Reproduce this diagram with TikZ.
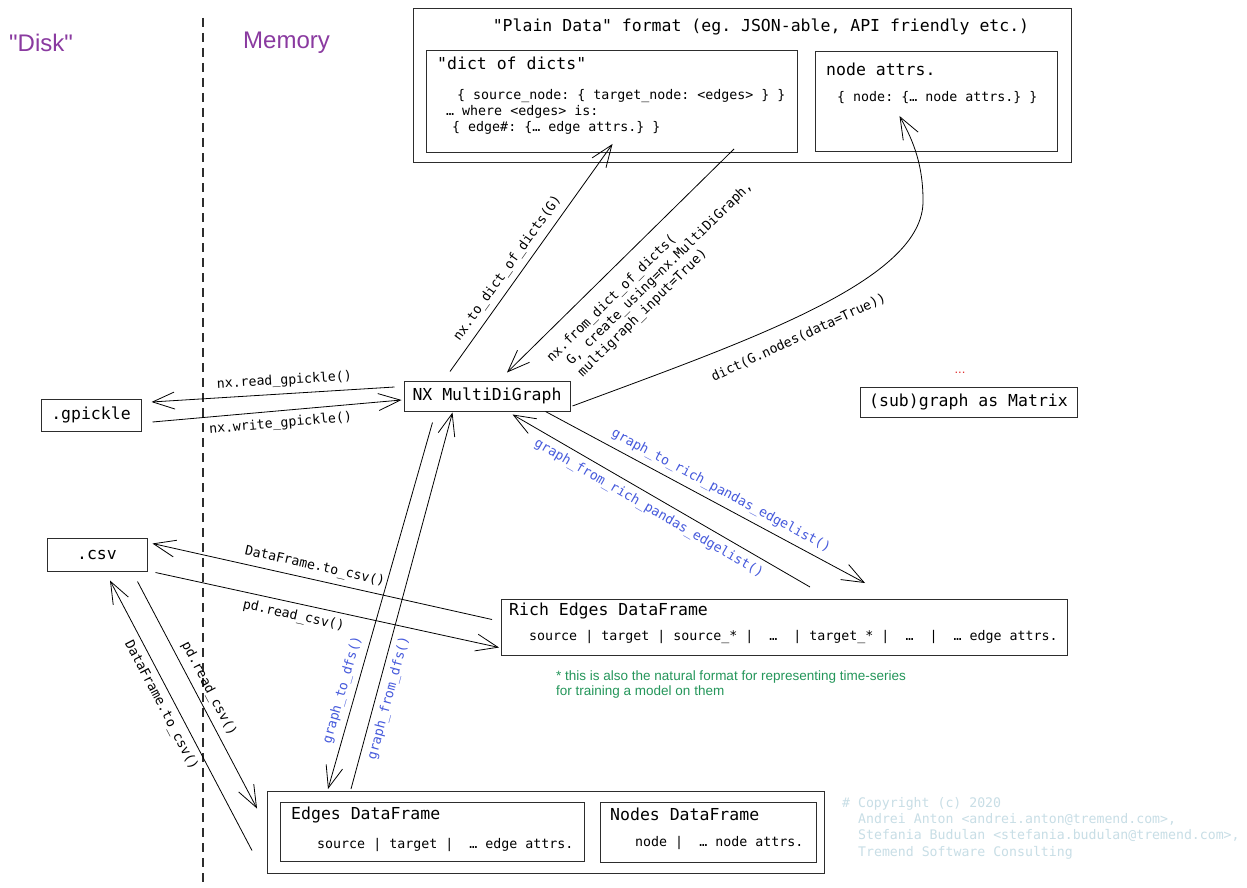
\documentclass[tikz,border=0pt]{standalone}
\usepackage{fontspec}
\setmainfont{Liberation Sans}
\setmonofont{DejaVu Sans Mono}
\usetikzlibrary{arrows.meta,calc}

\definecolor{zonepurple}{RGB}{138,58,160}
\definecolor{fnblue}{RGB}{70,90,220}
\definecolor{notegreen}{RGB}{36,150,90}
\definecolor{dotred}{RGB}{225,50,50}
\definecolor{copygray}{RGB}{200,222,230}
\definecolor{boxline}{RGB}{45,45,45}

\tikzset{
  box/.style={draw=boxline, line width=1pt, inner sep=0pt, anchor=north west},
  sbox/.style={draw=boxline, line width=1pt, inner sep=0pt, anchor=center,
    font=\ttfamily\fontsize{16.5}{19}\selectfont},
  title/.style={inner sep=0pt, font=\ttfamily\fontsize{16.5}{19}\selectfont},
  body/.style={inner sep=0pt, font=\ttfamily\fontsize{13.3}{16}\selectfont},
  zone/.style={inner sep=0pt, text=zonepurple, font=\fontsize{24}{28}\selectfont},
  note/.style={inner sep=0pt, text=notegreen, font=\fontsize{13.5}{15}\selectfont},
  copyr/.style={inner sep=0pt, text=copygray, font=\ttfamily\fontsize{13.2}{16.3}\selectfont},
  lbl/.style={inner sep=3pt, font=\ttfamily\fontsize{13.2}{16}\selectfont},
  fnlbl/.style={lbl, text=fnblue},
  arr/.style={draw=black, line width=0.8pt,
    -{Straight Barb[length=22pt,width=17pt,line width=0.8pt]}},
  divider/.style={draw=boxline, line width=1.1pt, dash pattern=on 9pt off 6pt},
}

\begin{document}
\begin{tikzpicture}[x=1pt,y=-1pt]
\useasboundingbox (0,0) rectangle (1247,888);
\fill[white] (0,0) rectangle (1247,888);

% storage / memory divider
\coordinate (divtop) at (203,18);
\coordinate (divbot) at (203,888);
\draw[divider] (divtop) -- (divbot);
\node[zone, anchor=west] (disk) at (9,43) {\textquotedbl Disk\textquotedbl};
\node[zone, anchor=west] (mem) at (243,43) {Memory};

% plain data formats
\node[box, minimum width=658pt, minimum height=154pt] (plain) at (413,8) {};
\node[title] (plaintitle) at (761,27) {"Plain Data" format (eg.\ JSON-able, API friendly etc.)};
\node[box, minimum width=371pt, minimum height=102pt] (dod) at (426,50) {};
\node[title, anchor=west] (dodtitle) at (437,63) {"dict of dicts"};
\node[body, anchor=north west, align=left] (dodbody) at (446,89)
  {\hspace*{11pt}\{ source\_node: \{ target\_node: <edges> \} \}\\
   … where <edges> is:\\
   \hspace*{6pt}\{ edge\#: \{… edge attrs.\} \}};
\node[box, minimum width=242pt, minimum height=100pt] (natt) at (815,51) {};
\node[title, anchor=west] (natttitle) at (826,69) {node attrs.};
\node[body, anchor=west] (nattbody) at (837,98) {\{ node: \{… node attrs.\} \}};

% in-memory graph and files
\node[sbox, minimum width=166pt, minimum height=30pt] (nx) at (487,396) {NX MultiDiGraph};
\node[sbox, minimum width=100pt, minimum height=32pt] (gp) at (91,415) {.gpickle};
\node[sbox, minimum width=217pt, minimum height=30pt] (mat) at (968.5,402) {(sub)graph as Matrix};
\node[inner sep=0pt, text=dotred, font=\fontsize{13}{15}\selectfont] (more) at (960,373) {...};
\node[sbox, minimum width=100pt, minimum height=33pt] (csv) at (97,554.5) {.csv};

% rich edge list
\node[box, minimum width=566pt, minimum height=56pt] (rich) at (501,599) {};
\node[title, anchor=west] (richtitle) at (509,611) {Rich Edges DataFrame};
\node[body, anchor=west] (richbody) at (529,637)
  {source | target | source\_* |~~…~~| target\_* |~~…~~|~~… edge attrs.};
\node[note, anchor=north west, align=left] (richnote) at (556,671)
  {* this is also the natural format for representing time-series\\for training a model on them};

% edges / nodes data frames
\node[box, minimum width=557pt, minimum height=82pt] (dfs) at (267,791) {};
\node[box, minimum width=304pt, minimum height=59pt] (edf) at (280,802) {};
\node[title, anchor=west] (edftitle) at (291,815) {Edges DataFrame};
\node[body, anchor=west] (edfbody) at (317,845) {source | target |~~… edge attrs.};
\node[box, minimum width=216pt, minimum height=60pt] (ndf) at (600,802) {};
\node[title, anchor=west] (ndftitle) at (610,814) {Nodes DataFrame};
\node[body, anchor=west] (ndfbody) at (635,843) {node |~~… node attrs.};

% authors
\node[copyr, anchor=north west, align=left] (copy) at (842,797)
  {\# Copyright (c) 2020\\
   \hspace*{16pt}Andrei Anton <andrei.anton@tremend.com>,\\
   \hspace*{16pt}Stefania Budulan <stefania.budulan@tremend.com>,\\
   \hspace*{16pt}Tremend Software Consulting};

% conversions: graph <-> dict of dicts
\draw[arr] ($(nx.north)+(-37,-9)$) --
  node[lbl, sloped, above=3pt, pos=0.42] {nx.to\_dict\_of\_dicts(G)}
  ($(dod.south)+(0.5,-9)$);
\draw[arr] ($(dod.south east)+(-64,-4)$) --
  node[lbl, sloped, below=11pt, pos=0.46, align=left]
  {nx.from\_dict\_of\_dicts(\\\hspace*{12pt}G, create\_using=nx.MultiDiGraph,\\\hspace*{12pt}multigraph\_input=True)}
  ($(nx.north)+(20,-8)$);
\draw[arr] ($(nx.east)+(2,10)$) .. controls (750,340) and (925,280) ..
  node[lbl, sloped, below=10pt, pos=0.44] {dict(G.nodes(data=True))}
  (923,200) .. controls (923,160) and (910,135) .. ($(natt.south)+(-37,-36)$);

% pickle files
\draw[arr] ($(nx.west)+(-9,-9)$) --
  node[lbl, sloped, above=3pt, pos=0.45] {nx.read\_gpickle()}
  ($(gp.east)+(10,-13)$);
\draw[arr] ($(gp.east)+(11,7)$) --
  node[lbl, sloped, below=3pt, pos=0.51] {nx.write\_gpickle()}
  ($(nx.west)+(-2,4)$);

% rich edge list
\draw[arr] ($(nx.south east)+(-25,0)$) --
  node[fnlbl, sloped, above=3pt, pos=0.53] {graph\_to\_rich\_pandas\_edgelist()}
  ($(rich.north west)+(364,-16)$);
\draw[arr] ($(rich.north west)+(309,-12)$) --
  node[fnlbl, sloped, below=3pt, pos=0.52] {graph\_from\_rich\_pandas\_edgelist()}
  ($(nx.south east)+(-58,3)$);

% csv <-> rich edge list
\draw[arr] ($(rich.west)+(-9,-8)$) --
  node[lbl, sloped, above=3pt, pos=0.53] {DataFrame.to\_csv()}
  ($(csv.east)+(5,-11)$);
\draw[arr] ($(csv.east)+(8,18)$) --
  node[lbl, sloped, below=3pt, pos=0.41] {pd.read\_csv()}
  ($(rich.west)+(-2,20)$);

% graph <-> data frames
\draw[arr] ($(nx.south west)+(29,11)$) --
  node[fnlbl, sloped, above=3pt, pos=0.74] {graph\_to\_dfs()}
  ($(dfs.north west)+(61,-2)$);
\draw[arr] ($(dfs.north west)+(84,-2)$) --
  node[fnlbl, sloped, below=3pt, pos=0.25] {graph\_from\_dfs()}
  ($(nx.south west)+(49,1)$);

% csv <-> data frames
\draw[arr] ($(dfs.west)+(-15,18)$) --
  node[lbl, sloped, below=3pt, pos=0.56] {DataFrame.to\_csv()}
  ($(csv.south)+(13,9)$);
\draw[arr] ($(csv.south east)+(-10,10)$) --
  node[lbl, sloped, above=3pt, pos=0.5] {pd.read\_csv()}
  ($(dfs.west)+(-10,-24)$);
\end{tikzpicture}
\end{document}
